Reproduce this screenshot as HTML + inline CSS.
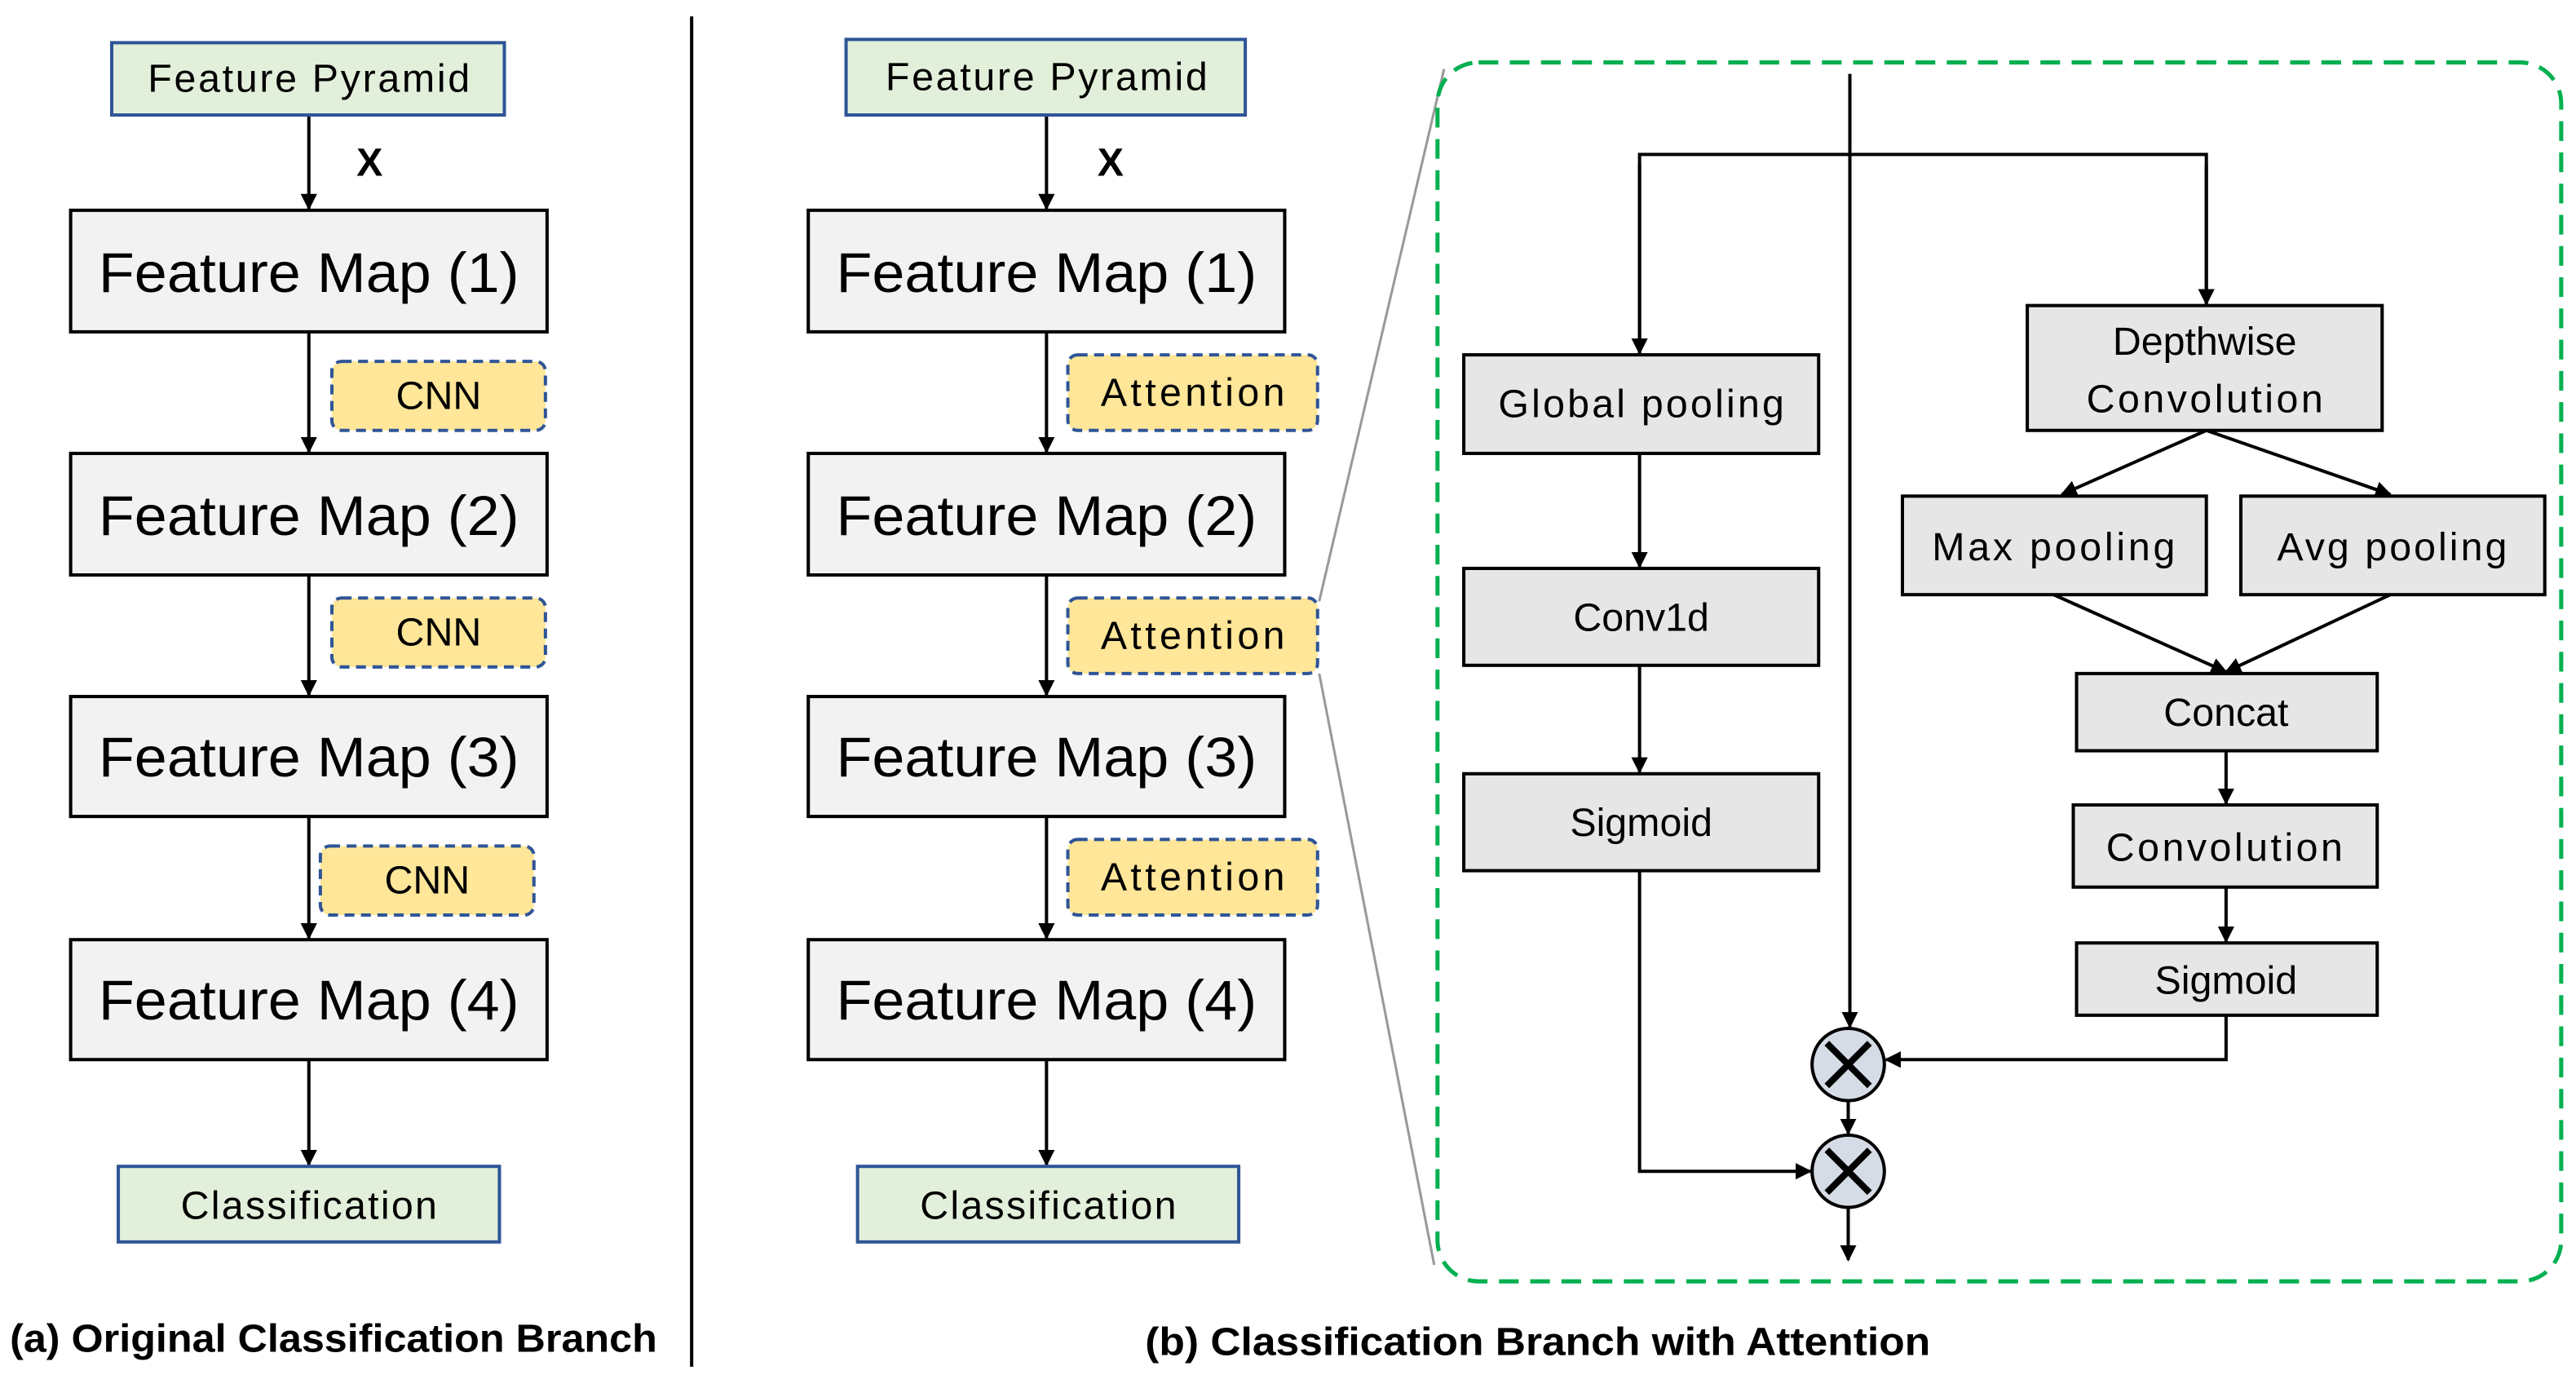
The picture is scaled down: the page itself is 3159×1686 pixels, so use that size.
<!DOCTYPE html>
<html><head><meta charset="utf-8"><style>
html,body{margin:0;padding:0;background:#fff;width:3159px;height:1686px;overflow:hidden}
svg{display:block}
text{font-family:"Liberation Sans",sans-serif;text-anchor:middle;dominant-baseline:central;fill:#000}
</style></head><body>
<svg width="3159" height="1686" viewBox="0 0 1568 837" preserveAspectRatio="none" xmlns="http://www.w3.org/2000/svg">
<defs>
<marker id="ah" markerWidth="10" markerHeight="10" refX="9" refY="5" orient="auto" markerUnits="userSpaceOnUse" viewBox="0 0 10 10">
<path d="M0,0 L10,5 L0,10 z" fill="#000"/></marker>
</defs>
<g stroke="#000" stroke-width="2" fill="none">
<line x1="188" y1="70" x2="188" y2="127" marker-end="url(#ah)"/>
<line x1="188" y1="202" x2="188" y2="275" marker-end="url(#ah)"/>
<line x1="188" y1="350" x2="188" y2="423" marker-end="url(#ah)"/>
<line x1="188" y1="497" x2="188" y2="571" marker-end="url(#ah)"/>
<line x1="188" y1="645" x2="188" y2="709" marker-end="url(#ah)"/>
<line x1="637" y1="70" x2="637" y2="127" marker-end="url(#ah)"/>
<line x1="637" y1="202" x2="637" y2="275" marker-end="url(#ah)"/>
<line x1="637" y1="350" x2="637" y2="423" marker-end="url(#ah)"/>
<line x1="637" y1="497" x2="637" y2="571" marker-end="url(#ah)"/>
<line x1="637" y1="645" x2="637" y2="709" marker-end="url(#ah)"/>
<line x1="421" y1="10" x2="421" y2="832"/>
<line x1="1126" y1="45" x2="1126" y2="625" marker-end="url(#ah)"/>
<polyline points="998,215 998,94 1343,94 1343,185" />
<line x1="998" y1="100" x2="998" y2="215" marker-end="url(#ah)"/>
<line x1="1343" y1="100" x2="1343" y2="185" marker-end="url(#ah)"/>
<line x1="998" y1="276" x2="998" y2="345" marker-end="url(#ah)"/>
<line x1="998" y1="405" x2="998" y2="470" marker-end="url(#ah)"/>
<polyline points="998,530 998,713 1102,713" marker-end="url(#ah)"/>
<line x1="1343" y1="262" x2="1255" y2="301" marker-end="url(#ah)"/>
<line x1="1343" y1="262" x2="1455" y2="301" marker-end="url(#ah)"/>
<line x1="1250" y1="362" x2="1355" y2="409" marker-end="url(#ah)"/>
<line x1="1455" y1="362" x2="1355" y2="409" marker-end="url(#ah)"/>
<line x1="1355" y1="457" x2="1355" y2="489" marker-end="url(#ah)"/>
<line x1="1355" y1="540" x2="1355" y2="573" marker-end="url(#ah)"/>
<polyline points="1355,618 1355,645 1148,645" marker-end="url(#ah)"/>
<line x1="1125" y1="670" x2="1125" y2="690" marker-end="url(#ah)"/>
<line x1="1125" y1="735" x2="1125" y2="767" marker-end="url(#ah)"/>
</g>
<line x1="803" y1="366" x2="879" y2="42" stroke="#999" stroke-width="1.5"/>
<line x1="803" y1="410" x2="873" y2="770" stroke="#999" stroke-width="1.5"/>
<rect x="875" y="38" width="684" height="742" rx="25" fill="none" stroke="#00b050" stroke-width="2.5" stroke-dasharray="12,7"/>

<g stroke="#2f5597" stroke-width="2" fill="#e2efda">
<rect x="68" y="26" width="239" height="44"/>
<rect x="72" y="710" width="232" height="46"/>
<rect x="515" y="24" width="243" height="46"/>
<rect x="522" y="710" width="232" height="46"/>
</g>
<g stroke="#2f5597" stroke-width="2" fill="#ffe699" stroke-dasharray="6,4">
<rect x="202" y="220" width="130" height="42" rx="6"/>
<rect x="202" y="364" width="130" height="42" rx="6"/>
<rect x="195" y="515" width="130" height="42" rx="6"/>
<rect x="650" y="216" width="152" height="46" rx="6"/>
<rect x="650" y="364" width="152" height="46" rx="6"/>
<rect x="650" y="511" width="152" height="46" rx="6"/>
</g>
<g stroke="#000" stroke-width="2" fill="#f2f2f2">
<rect x="43" y="128" width="290" height="74"/>
<rect x="43" y="276" width="290" height="74"/>
<rect x="43" y="424" width="290" height="73"/>
<rect x="43" y="572" width="290" height="73"/>
<rect x="492" y="128" width="290" height="74"/>
<rect x="492" y="276" width="290" height="74"/>
<rect x="492" y="424" width="290" height="73"/>
<rect x="492" y="572" width="290" height="73"/>
</g>
<g stroke="#000" stroke-width="2" fill="#e7e6e6">
<rect x="891" y="216" width="216" height="60"/>
<rect x="891" y="346" width="216" height="59"/>
<rect x="891" y="471" width="216" height="59"/>
<rect x="1234" y="186" width="216" height="76"/>
<rect x="1158" y="302" width="185" height="60"/>
<rect x="1364" y="302" width="185" height="60"/>
<rect x="1264" y="410" width="183" height="47"/>
<rect x="1262" y="490" width="185" height="50"/>
<rect x="1264" y="574" width="183" height="44"/>
</g>
<g stroke="#000" stroke-width="2" fill="#d6dce5">
<circle cx="1125" cy="648" r="22"/>
<circle cx="1125" cy="713" r="22"/>
</g>
<g stroke="#000" stroke-width="4">
<line x1="1112" y1="635" x2="1138" y2="661"/><line x1="1138" y1="635" x2="1112" y2="661"/>
<line x1="1112" y1="700" x2="1138" y2="726"/><line x1="1138" y1="700" x2="1112" y2="726"/>
</g>

<g font-size="24" lengthAdjust="spacingAndGlyphs">
<text x="188" y="48" textLength="196">Feature Pyramid</text>
<text x="188" y="734" textLength="156">Classification</text>
<text x="637" y="47" textLength="196">Feature Pyramid</text>
<text x="638" y="734" textLength="156">Classification</text>
<text x="267" y="241">CNN</text>
<text x="267" y="385">CNN</text>
<text x="260" y="536">CNN</text>
<text x="726" y="239" textLength="112">Attention</text>
<text x="726" y="387" textLength="112">Attention</text>
<text x="726" y="534" textLength="112">Attention</text>
<text x="999" y="246" textLength="174">Global pooling</text>
<text x="999" y="376">Conv1d</text>
<text x="999" y="501">Sigmoid</text>
<text x="1342" y="208">Depthwise</text>
<text x="1342" y="243" textLength="144">Convolution</text>
<text x="1250" y="333" textLength="148">Max pooling</text>
<text x="1456" y="333" textLength="140">Avg pooling</text>
<text x="1355" y="434">Concat</text>
<text x="1354" y="516" textLength="144">Convolution</text>
<text x="1355" y="597">Sigmoid</text>
</g>
<g font-size="34">
<text x="188" y="166" textLength="256" lengthAdjust="spacingAndGlyphs">Feature Map (1)</text>
<text x="188" y="314" textLength="256" lengthAdjust="spacingAndGlyphs">Feature Map (2)</text>
<text x="188" y="461" textLength="256" lengthAdjust="spacingAndGlyphs">Feature Map (3)</text>
<text x="188" y="609" textLength="256" lengthAdjust="spacingAndGlyphs">Feature Map (4)</text>
<text x="637" y="166" textLength="256" lengthAdjust="spacingAndGlyphs">Feature Map (1)</text>
<text x="637" y="314" textLength="256" lengthAdjust="spacingAndGlyphs">Feature Map (2)</text>
<text x="637" y="461" textLength="256" lengthAdjust="spacingAndGlyphs">Feature Map (3)</text>
<text x="637" y="609" textLength="256" lengthAdjust="spacingAndGlyphs">Feature Map (4)</text>
</g>
<g font-weight="bold">
<text x="225" y="99" font-size="24">X</text>
<text x="676" y="99" font-size="24">X</text>
<text x="203" y="815" font-size="24" textLength="394" lengthAdjust="spacingAndGlyphs">(a) Original Classification Branch</text>
<text x="936" y="817" font-size="24" textLength="478" lengthAdjust="spacingAndGlyphs">(b) Classification Branch with Attention</text>
</g>
</svg>
</body></html>
